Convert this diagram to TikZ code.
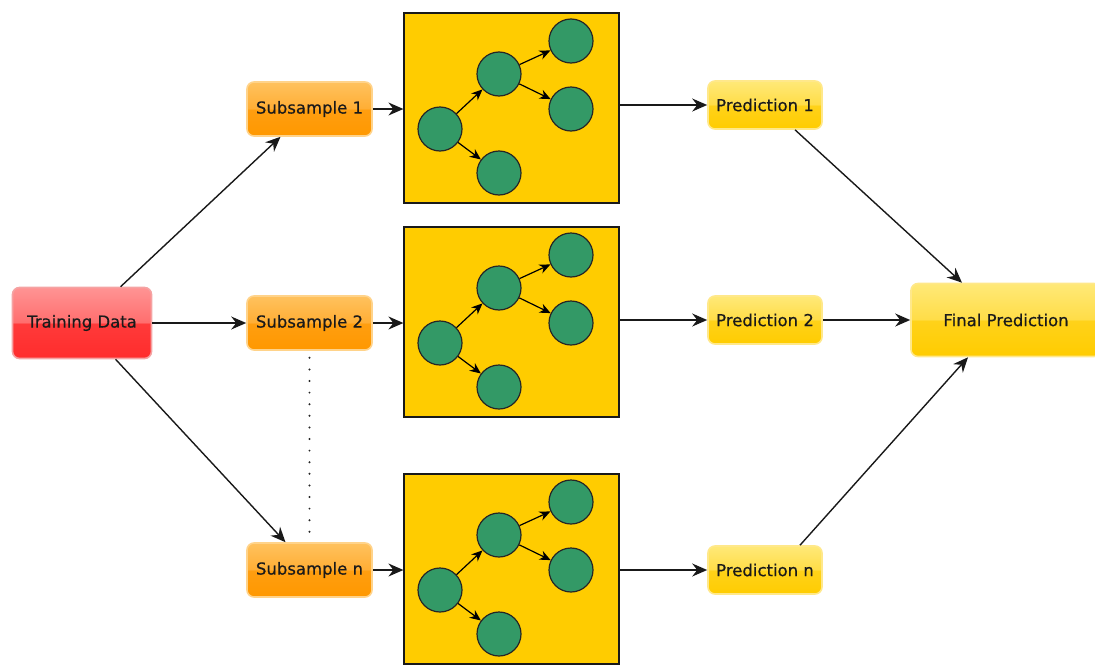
\documentclass[tikz,border=0pt]{standalone}
\usepackage{fontspec}
\setmainfont{DejaVu Sans}[BoldFont=DejaVu Sans, BoldFeatures={FakeBold=0.6}]
\usetikzlibrary{arrows.meta,calc}
\definecolor{tdtop}{HTML}{FF9494}
\definecolor{tdmidA}{HTML}{FF6E6E}
\definecolor{tdmidB}{HTML}{FF3A3A}
\definecolor{tdbot}{HTML}{FF2C2C}
\definecolor{tdline}{HTML}{F5A3A3}
\definecolor{sstop}{HTML}{FFC25E}
\definecolor{ssmidA}{HTML}{FFAE35}
\definecolor{ssmidB}{HTML}{FF9E10}
\definecolor{ssbot}{HTML}{FF9800}
\definecolor{ssline}{HTML}{FFD38A}
\definecolor{prtop}{HTML}{FFE978}
\definecolor{prmidA}{HTML}{FFDD48}
\definecolor{prmidB}{HTML}{FFD21A}
\definecolor{prbot}{HTML}{FFCC00}
\definecolor{prline}{HTML}{FFE88A}
\definecolor{treefill}{HTML}{FFCC00}
\definecolor{leaffill}{HTML}{339966}
\definecolor{txt}{HTML}{1A1A1A}
\pgfdeclareverticalshading{glossred}{100bp}{color(0bp)=(tdbot); color(25bp)=(tdbot); color(49.5bp)=(tdmidB); color(50.5bp)=(tdmidA); color(75bp)=(tdtop); color(100bp)=(tdtop)}
\pgfdeclareverticalshading{glossorange}{100bp}{color(0bp)=(ssbot); color(25bp)=(ssbot); color(49.5bp)=(ssmidB); color(50.5bp)=(ssmidA); color(75bp)=(sstop); color(100bp)=(sstop)}
\pgfdeclareverticalshading{glossyellow}{100bp}{color(0bp)=(prbot); color(25bp)=(prbot); color(49.5bp)=(prmidB); color(50.5bp)=(prmidA); color(75bp)=(prtop); color(100bp)=(prtop)}
\begin{document}
\begin{tikzpicture}[x=1pt,y=-1pt,
  gbox/.style={rounded corners=7pt, line width=1.6pt, inner sep=0pt, text=txt,
    font=\fontsize{16.5}{19}\selectfont\bfseries},
  tdbox/.style={gbox, shading=glossred, draw=tdline, minimum width=139pt, minimum height=71pt},
  ssbox/.style={gbox, shading=glossorange, draw=ssline, minimum width=125pt, minimum height=54pt},
  prbox/.style={gbox, shading=glossyellow, draw=prline, minimum width=114pt, minimum height=48pt},
  finbox/.style={gbox, shading=glossyellow, draw=prline, minimum width=190pt, minimum height=73pt},
  treebox/.style={draw=black!90, fill=treefill, line width=1.2pt, minimum width=215pt, minimum height=190pt, inner sep=0pt},
  leaf/.style={circle, draw=black!85, fill=leaffill, line width=1.2pt, minimum size=44pt, inner sep=0pt},
  arr/.style={draw=black!90, line width=1.4pt, -{Stealth[length=15pt,width=13pt,inset=5pt]}},
  sarr/.style={draw=black, line width=1.2pt, -{Stealth[length=11pt,width=9.5pt,inset=3.5pt]}},
  dots/.style={draw=black!85, line width=2.2pt, line cap=round, dash pattern=on 0pt off 11.6pt}
]
\useasboundingbox (0,0) rectangle (1095,664);
\clip (0,0) rectangle (1095,664);

% trees
\foreach \i/\dy in {1/0,2/214,3/461} {
  \node[treebox] (t\i) at (511.5,108+\dy) {};
  \node[leaf] (t\i-a) at (440,129+\dy) {};
  \node[leaf] (t\i-b) at (499,74+\dy) {};
  \node[leaf] (t\i-c) at (571,41+\dy) {};
  \node[leaf] (t\i-d) at (571,109+\dy) {};
  \node[leaf] (t\i-e) at (499,173+\dy) {};
  \draw[sarr] (t\i-a) -- (t\i-b);
  \draw[sarr] (t\i-a) -- (t\i-e);
  \draw[sarr] (t\i-b) -- (t\i-c);
  \draw[sarr] (t\i-b) -- (t\i-d);
}

% main nodes
\node[tdbox] (td) at (82,323) {Training Data};
\node[ssbox] (s1) at (309.5,109) {Subsample 1};
\node[ssbox] (s2) at (309.5,323) {Subsample 2};
\node[ssbox] (sn) at (309.5,570) {Subsample n};
\node[prbox] (p1) at (765,105) {Prediction 1};
\node[prbox] (p2) at (765,320) {Prediction 2};
\node[prbox] (pn) at (765,570) {Prediction n};
\node[finbox] (fp) at (1006,320) {Final Prediction};

% connectors
\draw[arr] (td) -- ([xshift=-29pt]s1.south);
\draw[arr] (td) -- (s2);
\draw[arr] (td) -- ([xshift=-24pt]sn.north);
\draw[dots] ([yshift=-7pt]s2.south) -- ([yshift=4pt]sn.north);

\draw[arr] (s1) -- (s1 -| t1.west);
\draw[arr] (s2) -- (s2 -| t2.west);
\draw[arr] (sn) -- (sn -| t3.west);

\draw[arr] (p1.west -| t1.east) -- (p1);
\draw[arr] (p2.west -| t2.east) -- (p2);
\draw[arr] (pn.west -| t3.east) -- (pn);

\draw[arr] ([xshift=30pt]p1.south) -- ([xshift=-44pt]fp.north);
\draw[arr] (p2) -- (fp);
\draw[arr] ([xshift=35pt]pn.north) -- ([xshift=-38pt]fp.south);
\end{tikzpicture}
\end{document}
